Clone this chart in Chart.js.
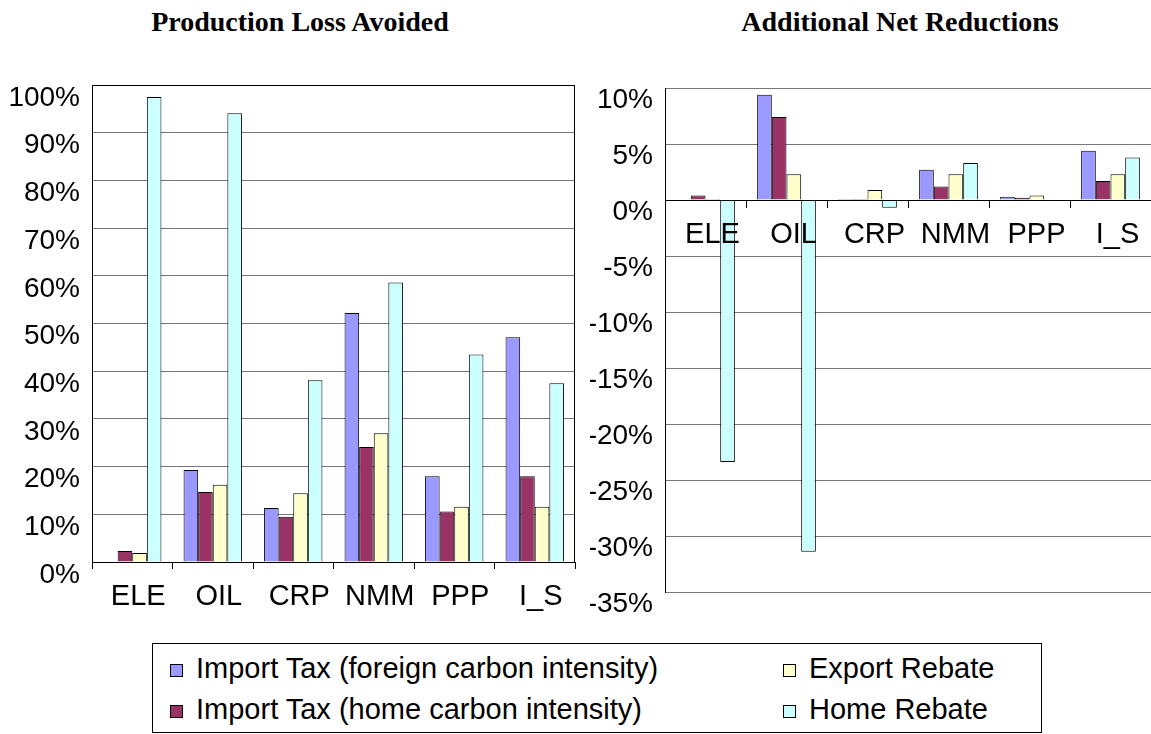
<!DOCTYPE html>
<html>
<head>
<meta charset="utf-8">
<script src="https://cdn.jsdelivr.net/npm/chart.js@4.4.1/dist/chart.umd.min.js"></script>
<style>
  body { margin: 0; background: #fff; width: 1151px; height: 734px; position: relative; overflow: hidden;
         font-family: 'Liberation Sans', Arial, sans-serif; }
  .title { position: absolute; top: 6px; line-height: 32px; transform: translateX(-50%); white-space: nowrap;
           font: bold 28px 'Liberation Serif', 'Times New Roman', serif; }
  #left_chart { position: absolute; left: 0; top: 0; }
  #right_chart { position: absolute; left: 590px; top: 0; }
  #legend { position: absolute; left: 152px; top: 643px; width: 890px; height: 90px;
            border: 1px solid #000; box-sizing: border-box; }
  .item { position: absolute; font-size: 29px; line-height: 32px; white-space: nowrap; }
  .swatch { display: inline-block; width: 11px; height: 11px; border: 1px solid #000;
            margin-right: 13px; vertical-align: 1px; }
</style>
</head>
<body>
<div class="title" style="left:300px">Production Loss Avoided</div>
<div class="title" style="left:900px">Additional Net Reductions</div>
<canvas id="left_chart" width="590" height="640"></canvas>
<canvas id="right_chart" width="561" height="640"></canvas>
<div id="legend"></div>
<script>
const sectors = ['ELE', 'OIL', 'CRP', 'NMM', 'PPP', 'I_S']
const seriesNames = [
  'Import Tax (foreign carbon intensity)',
  'Import Tax (home carbon intensity)',
  'Export Rebate',
  'Home Rebate'
]
const seriesColors = ['#9999FF', '#993366', '#FFFFCC', '#CCFFFF']

// Production Loss Avoided (%)
const lossForeign = [0, 19.3, 11.3, 52.2, 18.0, 47.1]
const lossHome = [2.3, 14.7, 9.5, 24.1, 10.6, 18.0]
const lossExport = [1.9, 16.2, 14.4, 27.0, 11.6, 11.6]
const lossRebate = [97.5, 94.1, 38.1, 58.6, 43.5, 37.5]

// Additional Net Reductions (%)
const netForeign = [0, 9.4, 0.1, 2.7, 0.3, 4.4]
const netHome = [0.4, 7.4, 0.1, 1.2, 0.2, 1.7]
const netExport = [0.1, 2.3, 0.9, 2.3, 0.4, 2.3]
const netRebate = [-23.4, -31.4, -0.7, 3.3, 0, 3.8]

Chart.defaults.font.family = "'Liberation Sans', Arial, sans-serif"
Chart.defaults.color = '#000'

function makeDatasets (seriesData) {
  return seriesData.map((values, i) => ({
    label: seriesNames[i],
    data: values,
    backgroundColor: seriesColors[i],
    borderColor: '#000',
    borderWidth: 1,
    barPercentage: 1,
    categoryPercentage: 0.725
  }))
}

// box round the plot area (left chart has a full frame)
const frame = {
  id: 'frame',
  afterDatasetsDraw (chart) {
    const { ctx, chartArea: a } = chart
    ctx.save()
    ctx.strokeStyle = '#000'
    ctx.lineWidth = 1
    ctx.strokeRect(a.left + 0.5, a.top + 0.5, a.right - a.left - 1, a.bottom - a.top)
    ctx.restore()
  }
}

const gridColor = '#777'

new Chart(document.getElementById('left_chart'), {
  type: 'bar',
  data: {
    labels: sectors,
    datasets: makeDatasets([lossForeign, lossHome, lossExport, lossRebate])
  },
  options: {
    responsive: false,
    animation: false,
    layout: { padding: { top: 85, right: 15, left: 0, bottom: 0 } },
    plugins: { legend: { display: false }, tooltip: { enabled: false } },
    scales: {
      y: {
        min: 0,
        max: 100,
        ticks: {
          stepSize: 10,
          callback: value => value + '%',
          font: { size: 28 },
          padding: 12,
          labelOffset: 13
        },
        grid: { color: gridColor, drawTicks: false },
        border: { color: '#000' },
        afterFit: scale => { scale.width = 92 }
      },
      x: {
        ticks: { font: { size: 29 }, padding: 11, labelOffset: 6, maxRotation: 0, autoSkip: false },
        grid: { offset: true, drawOnChartArea: false, tickLength: 7, color: '#000' },
        border: { color: '#000' },
        afterFit: scale => { scale.height = 78 }
      }
    }
  },
  plugins: [frame]
})

new Chart(document.getElementById('right_chart'), {
  type: 'bar',
  data: {
    labels: sectors,
    datasets: makeDatasets([netForeign, netHome, netExport, netRebate])
  },
  options: {
    responsive: false,
    animation: false,
    layout: { padding: { top: 88, right: 0, left: 0, bottom: 48 } },
    plugins: { legend: { display: false }, tooltip: { enabled: false } },
    scales: {
      y: {
        min: -35,
        max: 10,
        ticks: {
          stepSize: 5,
          callback: value => value + '%',
          font: { size: 28 },
          padding: 12,
          labelOffset: 12
        },
        grid: { color: gridColor, drawTicks: false },
        border: { color: '#000' },
        afterFit: scale => { scale.width = 75 }
      },
      x: {
        position: { y: 0 },
        ticks: { font: { size: 29 }, padding: 11, labelOffset: 7, maxRotation: 0, autoSkip: false, z: 1 },
        grid: { offset: true, drawOnChartArea: false, tickLength: 7, color: '#000' },
        border: { color: '#000', z: 1 }
      }
    }
  }
})

// legend: two columns, Excel style
const legendSlots = [
  { left: 17, top: 8 },
  { left: 17, top: 49 },
  { left: 630, top: 8 },
  { left: 630, top: 49 }
]
const legendBox = document.getElementById('legend')
seriesNames.forEach((name, i) => {
  const item = document.createElement('div')
  item.className = 'item'
  item.style.left = legendSlots[i].left + 'px'
  item.style.top = legendSlots[i].top + 'px'
  const sw = document.createElement('span')
  sw.className = 'swatch'
  sw.style.background = seriesColors[i]
  item.appendChild(sw)
  item.appendChild(document.createTextNode(name))
  legendBox.appendChild(item)
})
</script>
</body>
</html>
